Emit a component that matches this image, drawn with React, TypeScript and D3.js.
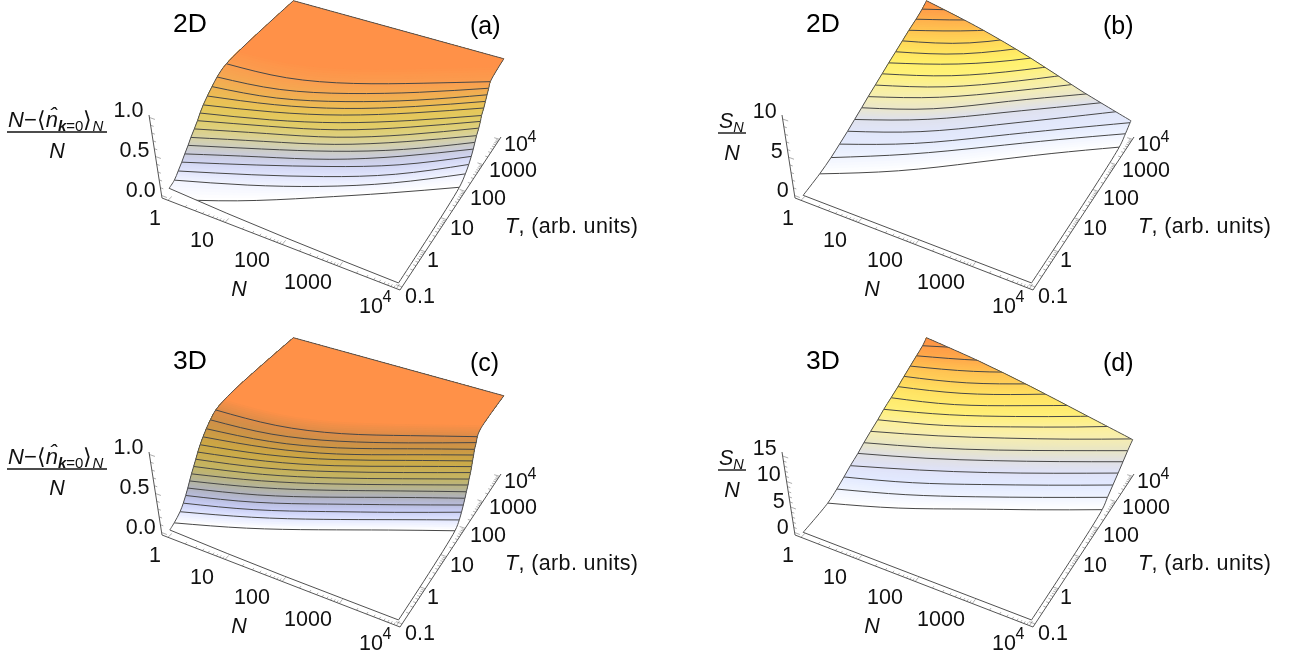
import React from "react";
import * as d3 from "d3";

// log10 N at which every contour row below was read
const logN = [0, 1, 2, 3, 4];

// log10 T of each contour, lowest level first. Values outside -1..4 lie off the plotted surface
const contoursA = [
  [-1.30, -0.62, 0.16, 0.97, 1.84],
  [-0.81, -0.26, 0.38, 1.16, 2.15],
  [-0.66, -0.08, 0.55, 1.30, 2.32],
  [-0.52, 0.09, 0.73, 1.47, 2.44],
  [-0.40, 0.21, 0.81, 1.61, 2.53],
  [-0.27, 0.32, 0.92, 1.68, 2.60],
  [-0.16, 0.42, 0.99, 1.79, 2.67],
  [-0.03, 0.53, 1.08, 1.87, 2.77],
  [0.10, 0.62, 1.18, 1.97, 2.84],
  [0.21, 0.68, 1.27, 2.04, 2.88],
  [0.34, 0.79, 1.38, 2.15, 2.98],
  [0.50, 0.88, 1.45, 2.21, 3.05],
  [0.68, 0.95, 1.53, 2.27, 3.12],
  [0.87, 1.10, 1.66, 2.39, 3.19],
  [1.23, 1.39, 1.87, 2.56, 3.26],
];
const contoursB = [
  [-0.42, 0.41, 1.43, 2.46, 3.36],
  [-0.02, 0.84, 1.84, 2.82, 3.70],
  [0.31, 1.06, 2.07, 3.05, 3.95],
  [0.62, 1.35, 2.35, 3.35, 4.29],
  [0.89, 1.66, 2.66, 3.63, 4.54],
  [1.18, 1.90, 2.93, 3.89, 4.76],
  [1.46, 2.19, 3.17, 4.18, 5.17],
  [1.76, 2.44, 3.41, 4.47, 5.52],
  [2.05, 2.72, 3.69, 4.76, 5.82],
  [2.34, 3.03, 4.00, 5.16, 6.32],
  [2.64, 3.29, 4.33, 5.38, 6.44],
  [2.93, 3.58, 4.68, 5.80, 6.93],
  [3.22, 3.94, 4.83, 5.72, 6.60],
  [3.54, 4.23, 5.06, 5.89, 6.71],
  [3.81, 4.44, 5.06, 5.68, 6.30],
];
const contoursC = [
  [-0.84, -0.30, 0.33, 0.97, 1.61],
  [-0.62, -0.10, 0.52, 1.17, 1.82],
  [-0.49, -0.01, 0.62, 1.26, 1.92],
  [-0.39, 0.08, 0.71, 1.36, 2.00],
  [-0.30, 0.17, 0.78, 1.45, 2.07],
  [-0.22, 0.26, 0.85, 1.51, 2.13],
  [-0.14, 0.33, 0.90, 1.56, 2.20],
  [-0.05, 0.39, 0.94, 1.60, 2.24],
  [0.04, 0.45, 0.99, 1.65, 2.30],
  [0.13, 0.52, 1.03, 1.70, 2.34],
  [0.23, 0.58, 1.08, 1.74, 2.37],
  [0.35, 0.65, 1.11, 1.77, 2.41],
  [0.48, 0.71, 1.16, 1.81, 2.44],
  [0.64, 0.80, 1.23, 1.85, 2.51],
  [0.84, 0.95, 1.34, 1.94, 2.55],
];
const contoursD = [
  [-0.15, 0.40, 1.05, 1.72, 2.38],
  [0.19, 0.71, 1.34, 2.00, 2.66],
  [0.47, 0.97, 1.63, 2.29, 2.94],
  [0.72, 1.29, 1.91, 2.57, 3.22],
  [1.01, 1.58, 2.20, 2.84, 3.48],
  [1.27, 1.82, 2.44, 3.09, 3.73],
  [1.56, 2.12, 2.74, 3.37, 4.01],
  [1.86, 2.37, 3.01, 3.68, 4.35],
  [2.12, 2.63, 3.26, 3.93, 4.60],
  [2.44, 2.87, 3.53, 4.20, 4.87],
  [2.74, 3.17, 3.82, 4.52, 5.22],
  [3.00, 3.44, 4.08, 4.72, 5.36],
  [3.28, 3.76, 4.40, 5.05, 5.69],
  [3.56, 4.06, 4.67, 5.29, 5.91],
  [3.83, 4.37, 4.91, 5.45, 5.99],
];

// the row above the last contour, where the colour has reached its top value
const capA = [1.6, 1.75, 2.25, 2.95, 3.65];
const capB = [4, 4.7, 5.4, 6.1, 6.8];
const capC = [1.1, 1.2, 1.6, 2.2, 2.8];
const capD = [4, 4.6, 5.2, 5.8, 6.4];

// height of the surface along T=0.1 and along T=10^4
const frontA = [0.09, 0.05, 0.025, 0.01, 0];
const frontB = [0, 0, 0, 0, 0];
const frontC = [0.03, 0.01, 0, 0, 0];
const frontD = [0, 0, 0, 0, 0];
const backA = [1, 1, 1, 1, 1];
const backB = [10.2, 8.5, 6.4, 4.0, 2.0];
const backC = [1, 1, 1, 1, 1];
const backD = [15.3, 13.5, 11.3, 8.9, 6.6];

// where the surface bends into the plateau, [log10 T, z]
const kneeLeftC = [1.5, 0.985];
const kneeRightC = [2.7, 0.985];

// surface colour at each contour level, 1 to 16
const coloursA = ["#ffffff", "#f0f3ff", "#dfe3fb", "#d0d4f2", "#c9cbdc", "#cdcdbf", "#d8d2a0", "#ddd080", "#e0cd6c", "#e3ca60", "#e7c557", "#ecbd55", "#efb252", "#f5a851", "#fb9c4e", "#ff9148"];
const coloursB = ["#ffffff", "#eef3ff", "#e4eafd", "#e0e5f8", "#dfe1ec", "#ebe7c9", "#f5eeb0", "#faf098", "#fff27a", "#fff06a", "#ffe45f", "#ffd657", "#ffc250", "#ffae4c", "#ff9c48", "#ff8f45"];
const coloursC = ["#ffffff", "#dfe4ff", "#c8cdf5", "#b8bcdc", "#b0b2bc", "#b4b49c", "#bcb47c", "#c3b564", "#c8b058", "#caac4c", "#cca845", "#cc9f45", "#cc9645", "#cf8f48", "#df8c48", "#ff9148"];
const coloursD = ["#ffffff", "#eef3ff", "#e2e9ff", "#dfe2f7", "#e0e0e2", "#e9e6c4", "#f7eeb0", "#fdf098", "#ffef78", "#ffe96a", "#ffdf60", "#ffcf58", "#ffbe50", "#ffa84a", "#ff9a46", "#ff8f44"];

const nLabels = ["1", "10", "100", "1000"];
const tLabels = ["0.1", "1", "10", "100", "1000"];
const zTicksUnit = [0, 0.5, 1];
const zTicksB = [0, 5, 10];
const zTicksD = [0, 5, 10, 15];

// box corners of one panel on the page: the bounding box the plot sits in
const box = {
  p000: [162, 198], p100: [400, 290], p110: [501, 137], p010: [291, 74],
  p001: [149, 115], p101: [402, 203], p111: [509, 55], p011: [290, -5],
};
const uScale = d3.scaleLinear().domain([0, 4]).range([0.025, 0.985]);
const vScale = d3.scaleLinear().domain([-1, 0, 1, 2, 3, 4]).range([0.02, 0.25, 0.46, 0.645, 0.82, 0.985]);

const lerp = (a: number, b: number, t: number) => a + (b - a) * t;

function project(u: number, v: number, w: number): [number, number] {
  const at = (i: number) => {
    const c00 = lerp(box.p000[i], box.p100[i], u), c10 = lerp(box.p010[i], box.p110[i], u);
    const c01 = lerp(box.p001[i], box.p101[i], u), c11 = lerp(box.p011[i], box.p111[i], u);
    return lerp(lerp(c00, c10, v), lerp(c01, c11, v), w);
  };
  return [at(0), at(1)];
}

const edgeCurve = d3.line().curve(d3.curveCatmullRom.alpha(0.5));
const contourCurve = d3.line().curve(d3.curveNatural);
const straight = d3.line();

function Surface({ id, contours, cap, front, back, colours, zTop, kneeL, kneeR }: any) {
  const wScale = d3.scaleLinear().domain([0, zTop]).range([0.03, 0.97]);
  const pt = (n: number, t: number, z: number) => project(uScale(n), vScale(t), wScale(z));
  const level = (k: number) => (k * zTop) / 16;
  const colour = d3.scaleLinear<string>().domain(d3.range(1, 17)).range(colours).interpolate(d3.interpolateRgb);

  const inRange = (col: number) =>
    contours.map((row: number[], k: number) => [row[col], level(k + 1)]).filter((d: number[]) => d[0] > -1 && d[0] < 4);
  const leftEdge = [[-1, front[0]], ...inRange(0), ...(kneeL ? [kneeL] : []), [4, back[0]]];
  const rightEdge = [[4, back[4]], ...(kneeR ? [kneeR] : []), ...inRange(4).reverse(), [-1, front[4]]];

  const outline = [
    edgeCurve(leftEdge.map((d: number[]) => pt(0, d[0], d[1]))),
    edgeCurve(logN.map((n, i) => pt(n, 4, back[i]))),
    edgeCurve(rightEdge.map((d: number[]) => pt(4, d[0], d[1]))),
    straight(logN.map((n, i) => pt(n, -1, front[i])).reverse()),
  ].map((d, i) => (i ? "L" + d!.slice(1) : d)).join("") + "Z";

  // bands are painted from the bottom up, every band covering all that lies above it
  const rows = [...contours, cap];
  const bands: { d: string; fill: string }[] = [];
  rows.slice(1).forEach((row: number[], r: number) => {
    d3.range(0, 7).forEach((s) => {
      const f = s / 6;
      const z = lerp(level(r + 1), level(r + 2), f);
      const points = logN.map((n, i) => pt(n, lerp(rows[r][i], row[i], f), z));
      const first = points[0], last = points[points.length - 1];
      bands.push({
        d: contourCurve(points) + `L${last[0] + 200},${last[1] - 300}L${first[0] - 200},${first[1] - 300}Z`,
        fill: colour(r + 1 + f),
      });
    });
  });

  return (
    <g>
      <clipPath id={id}><path d={outline} /></clipPath>
      <path d={outline} fill="#fff" />
      <g clipPath={`url(#${id})`}>
        {bands.map((b, i) => <path key={i} d={b.d} fill={b.fill} />)}
        {contours.map((row: number[], k: number) => (
          <path key={k} d={contourCurve(logN.map((n, i) => pt(n, row[i], level(k + 1))))!} fill="none" stroke="#474747" strokeWidth={1} />
        ))}
      </g>
      <path d={outline} fill="none" stroke="#505050" strokeWidth={1} strokeLinejoin="round" />
    </g>
  );
}

const minorDecades = (from: number, to: number) =>
  d3.range(from, to).flatMap((d) => d3.range(1, 10).map((m) => ({ t: d + Math.log10(m), major: m === 1 }))).concat({ t: to, major: true });

function Axes({ zTicks, zMinor, zTop }: any) {
  const wScale = d3.scaleLinear().domain([0, zTop]).range([0.03, 0.97]);
  const ticks: string[] = [];
  minorDecades(0, 4).forEach(({ t, major }) => {
    const u = uScale(t);
    ticks.push(straight([project(u, 0, 0), project(u, major ? 0.03 : 0.014, 0)])!);
  });
  minorDecades(-1, 4).forEach(({ t, major }) => {
    const v = vScale(t);
    ticks.push(straight([project(1, v, 0), project(major ? 0.975 : 0.988, v, 0)])!);
  });
  d3.range(0, zTop + 1e-6, zMinor).forEach((z) => {
    const major = zTicks.some((m: number) => Math.abs(m - z) < 1e-6);
    const w = wScale(z);
    ticks.push(straight([project(0, 0, w), project(major ? 0.022 : 0.012, 0, w)])!);
  });
  return (
    <g fill="none">
      <path d={ticks.join("")} stroke="#777" strokeWidth={0.6} />
      <path d={straight([box.p001, box.p000, box.p100, box.p110] as any)!} stroke="#555" strokeWidth={1} />
    </g>
  );
}

const nLabelPos = [[155, 225], [202, 247], [252, 267], [308, 289]];
const tLabelPos = [[420, 303], [433, 267], [462, 235], [488, 205], [513, 177]];

function TickLabels({ zTicks, zFormat, zTop }: any) {
  const wScale = d3.scaleLinear().domain([0, zTop]).range([0.03, 0.97]);
  return (
    <g fontSize={21.5} textAnchor="middle" fill="#111">
      {nLabels.map((s, i) => <text key={s} x={nLabelPos[i][0]} y={nLabelPos[i][1]}>{s}</text>)}
      <text x={371} y={313}>10</text>
      <text x={387} y={302} fontSize={16}>4</text>
      {tLabels.map((s, i) => <text key={s} x={tLabelPos[i][0]} y={tLabelPos[i][1]}>{s}</text>)}
      <text x={516} y={151}>10</text>
      <text x={532} y={142} fontSize={16}>4</text>
      {zTicks.map((z: number) => {
        const [x, y] = project(0, 0, wScale(z));
        return <text key={z} x={x - 6} y={y + 1.5 - 2.5 * wScale(z)} textAnchor="end">{zFormat(z)}</text>;
      })}
      <text x={239} y={296} fontStyle="italic">N</text>
      <text x={505} y={233} textAnchor="start" textLength={133} lengthAdjust="spacing"><tspan fontStyle="italic">T</tspan>, (arb. units)</text>
    </g>
  );
}

function Condensate() {
  return (
    <g fill="#111">
      <text x={8} y={127} fontSize={22}>
        <tspan fontStyle="italic">N</tspan>−⟨<tspan fontStyle="italic">n̂</tspan>
        <tspan fontSize={15} dy={4} fontStyle="italic" fontWeight="bold">k</tspan>
        <tspan fontSize={15}>=0</tspan>
        <tspan dy={-4}>⟩</tspan>
        <tspan fontSize={15} dy={4} fontStyle="italic">N</tspan>
      </text>
      <line x1={7} x2={107} y1={132} y2={132} stroke="#111" strokeWidth={1.4} />
      <text x={57} y={158} fontSize={21.5} fontStyle="italic" textAnchor="middle">N</text>
    </g>
  );
}

function Entropy() {
  return (
    <g fill="#111">
      <text x={86} y={128} fontSize={21.5} fontStyle="italic">
        S<tspan fontSize={14.5} dy={4}>N</tspan>
      </text>
      <line x1={85} x2={113} y1={133} y2={133} stroke="#111" strokeWidth={1.4} />
      <text x={99} y={160} fontSize={21.5} fontStyle="italic" textAnchor="middle">N</text>
    </g>
  );
}

function Panel({ dx, dy, dim, tag, surface, zTicks, zMinor, zFormat, children }: any) {
  return (
    <g transform={`translate(${dx},${dy})`}>
      <Axes zTicks={zTicks} zMinor={zMinor} zTop={surface.zTop} />
      <Surface {...surface} />
      <TickLabels zTicks={zTicks} zFormat={zFormat} zTop={surface.zTop} />
      {children}
      <text x={173} y={32} fontSize={26.5}>{dim}</text>
      <text x={470} y={34} fontSize={25}>{tag}</text>
    </g>
  );
}

export default function App() {
  return (
    <svg width={1294} height={659} style={{ position: "absolute", left: 0, top: 0, display: "block", filter: "blur(0.3px)", fontFamily: "'Liberation Sans', Arial, sans-serif" }}>
      <Panel dx={0} dy={0} dim="2D" tag="(a)" zTicks={zTicksUnit} zMinor={0.1} zFormat={d3.format(".1f")}
        surface={{ id: "sa", contours: contoursA, cap: capA, front: frontA, back: backA, colours: coloursA, zTop: 1 }}>
        <Condensate />
      </Panel>
      <Panel dx={633} dy={0} dim="2D" tag="(b)" zTicks={zTicksB} zMinor={1} zFormat={d3.format("d")}
        surface={{ id: "sb", contours: contoursB, cap: capB, front: frontB, back: backB, colours: coloursB, zTop: 10.2 }}>
        <Entropy />
      </Panel>
      <Panel dx={0} dy={337} dim="3D" tag="(c)" zTicks={zTicksUnit} zMinor={0.1} zFormat={d3.format(".1f")}
        surface={{ id: "sc", contours: contoursC, cap: capC, front: frontC, back: backC, colours: coloursC, zTop: 1, kneeL: kneeLeftC, kneeR: kneeRightC }}>
        <Condensate />
      </Panel>
      <Panel dx={633} dy={337} dim="3D" tag="(d)" zTicks={zTicksD} zMinor={1} zFormat={d3.format("d")}
        surface={{ id: "sd", contours: contoursD, cap: capD, front: frontD, back: backD, colours: coloursD, zTop: 15.3 }}>
        <Entropy />
      </Panel>
    </svg>
  );
}
